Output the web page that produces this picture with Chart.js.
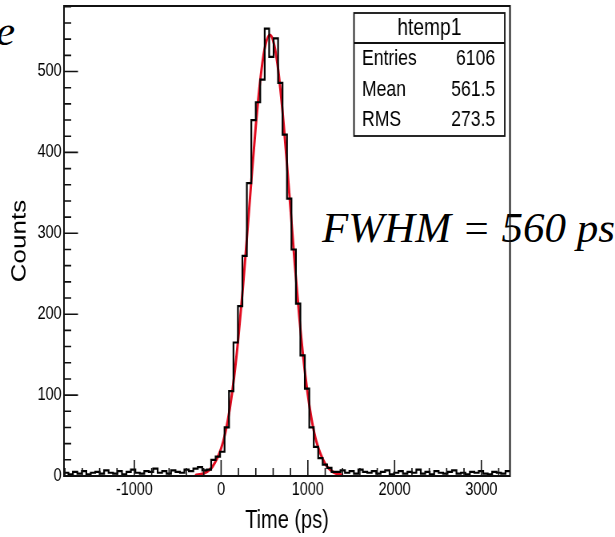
<!DOCTYPE html>
<html><head><meta charset="utf-8">
<script src="https://cdn.jsdelivr.net/npm/chart.js@4.4.1/dist/chart.umd.min.js"></script>
<style>
html,body{margin:0;padding:0;background:#fff;width:615px;height:537px;overflow:hidden;}
#wrap{position:absolute;left:0;top:0;width:769px;height:537px;transform:scaleX(0.8);transform-origin:0 0;}
.note{position:absolute;font-family:"Liberation Serif","Times New Roman",serif;font-style:italic;font-size:43px;line-height:43px;color:#000;white-space:nowrap;}
</style></head><body>
<div class="note" style="left:322px;top:206px;">FWHM = 560 ps</div>
<div class="note" style="left:-4px;top:9px;">e</div>
<div id="wrap"><canvas id="c" width="769" height="537"></canvas></div>
<script>
// ---- axis definition ----
const xMin = -1811, xMax = 3330;
const yMin = 0, yMax = 581;
const xTickValues = [-1000, 0, 1000, 2000, 3000];
const xTickLabels = ['-1000', '0', '1000', '2000', '3000'];
const yTickValues = [0, 100, 200, 300, 400, 500];
const yTickLabels = ['0', '100', '200', '300', '400', '500'];
const xMajorStep = 1000, xMinorStep = 200, yMajorStep = 100, yMinorStep = 20;

// ---- histogram (100 bins from xMin to xMax) ----
const binCounts = [
  4,2,5,3,6,2,4,5,3,7,4,3,6,2,5,8,4,3,6,5,9,4,6,3,7,5,4,8,6,9,11,
  7,8,20,24,30,60,105,165,210,272,362,440,462,490,553,518,541,486,422,343,280,213,149,108,60,36,22,14,10,5,
  5,7,4,6,3,8,5,4,6,3,5,7,2,4,6,3,5,4,8,3,5,2,6,4,3,5,7,3,4,2,5,4,6,3,2,5,4,3,6
];

// ---- gaussian fit curve ----
const fitX = [-300,-200,-100,0,50,100,150,200,250,300,350,400,450,500,561.5,600,650,700,750,800,850,900,950,1000,1050,1100,1200,1300,1400];
const fitY = [0.8,3.3,11.5,34,54,83,122,172,231,298,367,433,488,527,545,538,509,460,398,330,261,198,144,100,66,42,15,4.4,1.1];

// ---- stats box ----
const statsTitle = 'htemp1';
const statsNames = ['Entries', 'Mean', 'RMS'];
const statsValues = ['6106', '561.5', '273.5'];

const binWidth = (xMax - xMin) / binCounts.length;
const histPoints = binCounts.map((c, i) => ({x: xMin + i * binWidth, y: c}));
histPoints.push({x: xMax, y: binCounts[binCounts.length - 1]});
const fitPoints = fitX.map((v, i) => ({x: v, y: fitY[i]}));

const FONT = '"Liberation Sans", Arial, sans-serif';

const rootDecor = {
  id: 'rootDecor',
  afterDatasetsDraw(chart) {
    const {ctx, chartArea: ca, scales: {x, y}} = chart;
    ctx.save();
    ctx.strokeStyle = '#111';
    ctx.lineWidth = 1.6;
    ctx.beginPath();
    for (let v = Math.ceil(xMin / xMinorStep) * xMinorStep; v <= xMax; v += xMinorStep) {
      const px = x.getPixelForValue(v);
      const len = (v % xMajorStep === 0) ? 16 : 8;
      ctx.moveTo(px, ca.bottom); ctx.lineTo(px, ca.bottom - len);
    }
    for (let v = yMin; v <= yMax; v += yMinorStep) {
      const py = y.getPixelForValue(v);
      const len = (v % yMajorStep === 0) ? 17.5 : 9;
      ctx.moveTo(ca.left, py); ctx.lineTo(ca.left + len, py);
    }
    ctx.stroke();
    ctx.lineWidth = 2;
    ctx.strokeRect(ca.left, ca.top, ca.right - ca.left, ca.bottom - ca.top);
    // stats box
    const bl = ca.right - 195, br = ca.right - 6.5, bt = ca.top + 7, bb = ca.top + 130, sep = ca.top + 37;
    ctx.fillStyle = '#fff';
    ctx.fillRect(bl, bt, br - bl, bb - bt);
    ctx.lineWidth = 1.8;
    ctx.strokeRect(bl, bt, br - bl, bb - bt);
    ctx.beginPath(); ctx.moveTo(bl, sep); ctx.lineTo(br, sep); ctx.stroke();
    ctx.fillStyle = '#000';
    ctx.textBaseline = 'middle';
    ctx.textAlign = 'center';
    ctx.font = '24px ' + FONT;
    ctx.fillText(statsTitle, (bl + br) / 2, bt + 15);
    ctx.font = '22px ' + FONT;
    const rowY = [sep + 16, sep + 47, sep + 77];
    statsNames.forEach((n, i) => {
      ctx.textAlign = 'left'; ctx.fillText(n, bl + 10, rowY[i]);
      ctx.textAlign = 'right'; ctx.fillText(statsValues[i], br - 12, rowY[i]);
    });
    ctx.restore();
  }
};

new Chart(document.getElementById('c'), {
  type: 'line',
  data: {
    datasets: [
      {data: histPoints, borderColor: '#000', borderWidth: 2.2, stepped: 'before', pointRadius: 0, fill: false},
      {data: fitPoints, borderColor: 'rgb(226,12,32)', borderWidth: 3, cubicInterpolationMode: 'monotone', pointRadius: 0, fill: false}
    ]
  },
  options: {
    responsive: false,
    animation: false,
    layout: {padding: {left: 0, right: 131.5, top: 6, bottom: 0}},
    plugins: {legend: {display: false}, tooltip: {enabled: false}},
    scales: {
      x: {
        type: 'linear', min: xMin, max: xMax,
        grid: {display: false, drawTicks: false},
        border: {display: false},
        afterBuildTicks: s => { s.ticks = xTickValues.map(v => ({value: v})); },
        afterFit: s => { s.height = 61; s.paddingLeft = 0; s.paddingRight = 0; },
        ticks: {padding: 3, color: '#000', font: {family: FONT, size: 18},
                maxRotation: 0, autoSkip: false, callback: (v, i) => xTickLabels[i]},
        title: {display: true, text: 'Time (ps)', color: '#000', padding: {top: 0, bottom: 1},
                font: {family: FONT, size: 25}}
      },
      y: {
        type: 'linear', min: yMin, max: yMax,
        grid: {display: false, drawTicks: false},
        border: {display: false},
        afterBuildTicks: s => { s.ticks = yTickValues.map(v => ({value: v})); },
        afterFit: s => { s.width = 80; s.paddingTop = 0; s.paddingBottom = 0; },
        ticks: {padding: 3, color: '#000', font: {family: FONT, size: 18},
                autoSkip: false, callback: (v, i) => yTickLabels[i]},
        title: {display: true, text: 'Counts', color: '#000', padding: {top: 9, bottom: 0},
                font: {family: FONT, size: 26}}
      }
    }
  },
  plugins: [rootDecor]
});
</script>
</body></html>
